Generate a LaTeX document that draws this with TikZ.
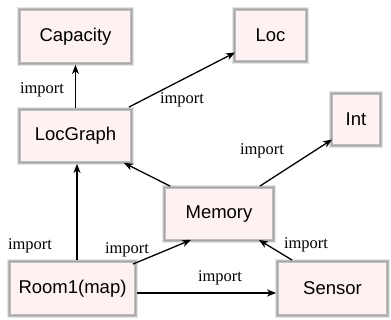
\documentclass[tikz,border=0pt]{standalone}
\usepackage{fontspec}
\setmainfont{Liberation Serif}
\setsansfont{Liberation Sans}
\usetikzlibrary{calc,arrows.meta}
\definecolor{boxfill}{HTML}{FDF1F1}
\tikzset{
  mod/.style={rectangle, fill=boxfill, draw=gray!50, line width=2.8pt,
    preaction={draw=gray!20, line width=5.5pt},
    postaction={draw=gray!70, line width=1.1pt},
    inner sep=0pt, font=\sffamily\fontsize{18.5}{20}\selectfont},
  arr/.style={-{Stealth[length=9pt,width=7pt,inset=2.5pt]}, line width=1.3pt, black},
  lbl/.style={font=\rmfamily\fontsize{16.5}{18}\selectfont, inner sep=0pt}
}
\begin{document}
\begin{tikzpicture}[x=1pt,y=-1pt]
\useasboundingbox (0,0) rectangle (391,320);
% modules
\node[mod, minimum width=112pt, minimum height=54pt] (cap) at (75.5,36.5) {Capacity};
\node[mod, minimum width=112pt, minimum height=53pt] (lg) at (75.5,136) {LocGraph};
\node[mod, minimum width=72pt, minimum height=52pt] (loc) at (270.5,35.5) {Loc};
\node[mod, minimum width=49pt, minimum height=52pt] (int) at (356,119.5) {Int};
\node[mod, minimum width=109pt, minimum height=53pt] (mem) at (219,214) {Memory};
\node[mod, minimum width=126pt, minimum height=54pt] (room) at (72.5,288.5) {Room1(map)};
\node[mod, minimum width=110pt, minimum height=54pt] (sen) at (332.5,288.5) {Sensor};
% import edges
\draw[arr] (lg.north) -- (cap.south);
\draw[arr] ($(lg.north east)+(-4,-1)$) -- ($(loc.west)+(2,17)$);
\draw[arr] ($(mem.north west)+(7,0)$) -- ($(lg.south east)+(-9,-1)$);
\draw[arr] ($(mem.north east)+(-15,0)$) -- ($(int.west)+(2,20)$);
\coordinate (rtop) at ($(room.north)+(4.5,0)$);
\draw[arr] (rtop) -- (rtop |- lg.south);
\draw[arr] ($(room.north east)+(-4,4)$) -- ($(mem.south west)+(28,-2)$);
\coordinate (rright) at ($(room.east)+(0,4.5)$);
\draw[arr] (rright) -- (rright -| sen.west);
\draw[arr] ($(sen.north west)+(16,0)$) -- ($(mem.south east)+(-16,-2)$);
% labels
\node[lbl] (l1) at (42,90) {import};
\node[lbl] (l2) at (182,100) {import};
\node[lbl] (l3) at (262,151) {import};
\node[lbl] (l4) at (30,246) {import};
\node[lbl] (l5) at (127,250) {import};
\node[lbl] (l6) at (220,278) {import};
\node[lbl] (l7) at (306,245) {import};
\end{tikzpicture}
\end{document}
